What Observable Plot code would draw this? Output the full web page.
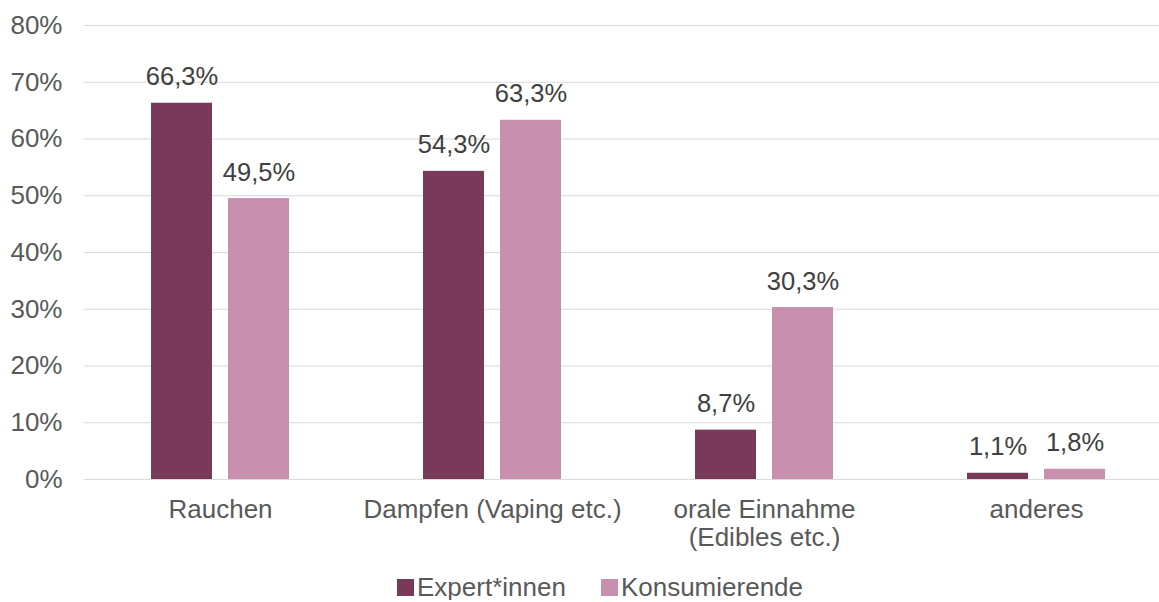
<!DOCTYPE html>
<html><head><meta charset="utf-8">
<script src="https://cdn.jsdelivr.net/npm/d3@7"></script>
<script src="https://cdn.jsdelivr.net/npm/@observablehq/plot@0.6"></script>
<style>
body{margin:0;background:#fff;font-family:"Liberation Sans",Arial,sans-serif;}
#chart svg{display:block;}
#legend{margin-top:14px;padding-left:397px;font-size:26px;line-height:26px;color:#595959;white-space:nowrap;}
.sw{display:inline-block;width:17px;height:17px;margin-right:3px;}
.item{margin-right:35px;}
</style></head><body>
<div id="chart"></div><div id="legend"></div>
<script>
const categories = ["Rauchen", "Dampfen (Vaping etc.)", "orale Einnahme\n(Edibles etc.)", "anderes"];
const series = ["Expert*innen", "Konsumierende"];
const expertValues = [66.3, 54.3, 8.7, 1.1];
const konsumValues = [49.5, 63.3, 30.3, 1.8];
const seriesColors = ["#783a58", "#c890ad"];
const yTicks = [0, 10, 20, 30, 40, 50, 60, 70, 80];

const rows = categories.flatMap((c, i) => [
  {category: c, series: series[0], value: expertValues[i]},
  {category: c, series: series[1], value: konsumValues[i]}
]);
const fmt = v => v.toFixed(1).replace(".", ",") + "%";
const font = "Liberation Sans, Arial, sans-serif";

const chart = Plot.plot({
  width: 1159,
  height: 560,
  marginLeft: 83,
  marginRight: 0,
  marginTop: 25,
  marginBottom: 81,
  style: {fontFamily: font, fontSize: "26px", background: "#fff"},
  y: {domain: [0, 80], axis: null},
  x: {domain: series, axis: null, paddingInner: 0.211, paddingOuter: 0.868},
  fx: {domain: categories, range: [83, 1173], paddingInner: 0, paddingOuter: 0, label: null},
  color: {domain: series, range: seriesColors},
  marks: [
    Plot.ruleY(yTicks, {y: d => d, stroke: "#d9d9d9", strokeWidth: 1.2}),
    Plot.axisY({ticks: yTicks, tickFormat: d => d + "%", tickSize: 0, tickPadding: 22, fontSize: 26, color: "#595959", label: null}),
    Plot.barY(rows, {fx: "category", x: "series", y: "value", fill: "series"}),
    Plot.text(rows, {fx: "category", x: "series", y: "value", text: d => fmt(d.value), dy: -18, lineAnchor: "bottom", fill: "#404040", fontSize: 25.5}),
    Plot.axisFx({anchor: "bottom", tickSize: 0, tickPadding: 18, fontSize: 26, lineHeight: 1.1, color: "#595959", label: null})
  ]
});
document.getElementById("chart").appendChild(chart);

const legend = document.getElementById("legend");
series.forEach((s, i) => {
  const item = document.createElement("span");
  item.className = "item";
  const sw = document.createElement("span");
  sw.className = "sw";
  sw.style.background = seriesColors[i];
  item.appendChild(sw);
  item.appendChild(document.createTextNode(s));
  legend.appendChild(item);
});
</script>
</body></html>
